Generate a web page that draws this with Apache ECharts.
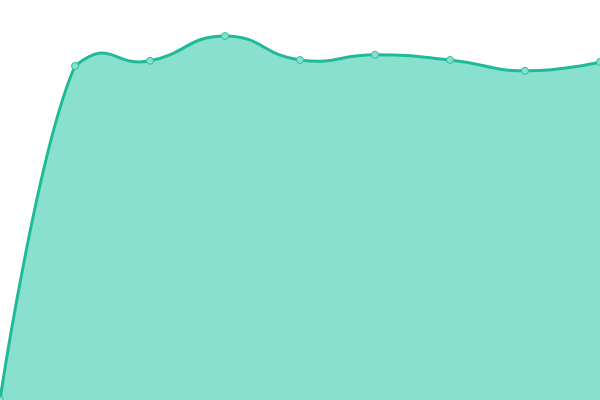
<!DOCTYPE html>
<html>
<head>
<meta charset="utf-8">
<script src="https://cdn.jsdelivr.net/npm/echarts@6/dist/echarts.min.js"></script>
<style>
  html, body { margin: 0; padding: 0; background: #fff; }
  #chart { width: 600px; height: 400px; }
</style>
</head>
<body>
<div id="chart"></div>
<script>
var categories = ['1', '2', '3', '4', '5', '6', '7', '8', '9'];
var values = [0, 83.5, 84.8, 91, 85, 86.3, 85, 82.3, 84.5];

// bezier smoothing, split by x distance, clamped to the box of all points
function controlPoints(pts, smooth) {
    var minX = Infinity, minY = Infinity, maxX = -Infinity, maxY = -Infinity;
    pts.forEach(function (p) {
        minX = Math.min(minX, p[0]); maxX = Math.max(maxX, p[0]);
        minY = Math.min(minY, p[1]); maxY = Math.max(maxY, p[1]);
    });
    function clamp(c) {
        return [Math.min(Math.max(c[0], minX), maxX), Math.min(Math.max(c[1], minY), maxY)];
    }
    var cps = [];
    for (var i = 0; i < pts.length; i++) {
        var p = pts[i];
        if (i === 0 || i === pts.length - 1) {
            cps.push(p.slice());
            continue;
        }
        var prev = pts[i - 1], next = pts[i + 1];
        var vx = (next[0] - prev[0]) * smooth, vy = (next[1] - prev[1]) * smooth;
        var d0 = Math.abs(p[0] - prev[0]);
        var d1 = Math.abs(next[0] - p[0]);
        var sum = d0 + d1;
        if (sum) { d0 /= sum; d1 /= sum; }
        cps.push(clamp([p[0] - vx * d0, p[1] - vy * d0]));
        cps.push(clamp([p[0] + vx * d1, p[1] + vy * d1]));
    }
    return cps;
}

function curvePath(pts) {
    var cps = controlPoints(pts, 0.5);
    var d = 'M' + pts[0][0] + ' ' + pts[0][1];
    for (var i = 0; i < pts.length - 1; i++) {
        var a = cps[i * 2], b = cps[i * 2 + 1], p = pts[i + 1];
        d += ' C' + a[0] + ' ' + a[1] + ' ' + b[0] + ' ' + b[1] + ' ' + p[0] + ' ' + p[1];
    }
    return d;
}

var mychart = echarts.init(document.getElementById('chart'));
var option = {
    animation: false,
    grid: { left: 0, right: 0, top: 0, bottom: 0 },
    xAxis: {
        type: 'category',
        boundaryGap: false,
        data: categories,
        show: false
    },
    yAxis: {
        type: 'value',
        min: 0,
        max: 100,
        show: false
    },
    series: [
        {
            type: 'custom',
            clip: false,
            z: 1,
            data: values.map(function (v, i) { return [i, v]; }),
            renderItem: function (params, api) {
                if (params.dataIndex !== 0) return null;
                var pts = values.map(function (v, i) { return api.coord([i, v]); });
                var base0 = api.coord([0, 0]), base1 = api.coord([values.length - 1, 0]);
                var line = curvePath(pts);
                var area = line + ' L' + base1[0] + ' ' + base1[1] + ' L' + base0[0] + ' ' + base0[1] + ' Z';
                return {
                    type: 'group',
                    children: [
                        { type: 'path', shape: { pathData: area }, style: { fill: '#89e0cf', stroke: null } },
                        { type: 'path', shape: { pathData: line }, style: { fill: null, stroke: '#1fbb98', lineWidth: 3 } }
                    ]
                };
            }
        },
        {
            type: 'line',
            z: 2,
            data: values,
            symbol: 'circle',
            symbolSize: 7,
            itemStyle: { color: '#8ae0cf', borderColor: '#2bbf9c', borderWidth: 1 },
            lineStyle: { width: 0, opacity: 0 }
        }
    ]
};
mychart.setOption(option);
</script>
</body>
</html>
